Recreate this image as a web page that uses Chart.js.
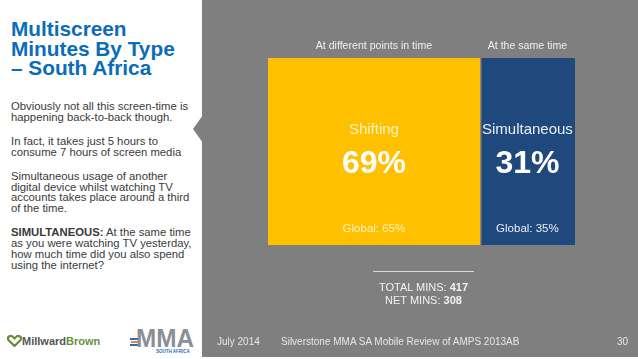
<!DOCTYPE html>
<html>
<head>
<meta charset="utf-8">
<script src="https://cdn.jsdelivr.net/npm/chart.js@4/dist/chart.umd.min.js"></script>
<style>
    html, body { margin: 0; padding: 0; }
    body { width: 638px; height: 359px; position: relative; overflow: hidden; background: #fff; font-family: "Liberation Sans", Arial, sans-serif; }
    #left { position: absolute; left: 0; top: 0; width: 202px; height: 359px; }
    #title { position: absolute; left: 11px; top: 19px; margin: 0; font-size: 20.8px; line-height: 19.5px; font-weight: bold; color: #0b6cb8; }
    #body { position: absolute; left: 11px; top: 101px; white-space: nowrap; font-size: 11.3px; line-height: 10.9px; color: #3a3a3a; }
    #body p { margin: 0 0 13px 0; }
    #panel { position: absolute; left: 202px; top: 0; width: 436px; height: 357px; background: #7f7f7f; }
    #notch { position: absolute; left: 193px; top: 115px; width: 10px; height: 28px; background: #7f7f7f; clip-path: polygon(100% 0, 0 50%, 100% 100%); }
    #chart { position: absolute; left: 202px; top: 0; }
    #totals { position: absolute; left: 373px; top: 271px; width: 101px; border-top: 1px solid #d8d8d8; text-align: center; color: #f2f2f2; font-size: 11px; line-height: 13px; padding-top: 9px; }
    .foot { position: absolute; top: 336px; font-size: 10px; color: #e6e6e6; }
    #mb { position: absolute; left: 7px; top: 335px; font-size: 11px; font-weight: bold; }
    #mma { position: absolute; left: 130px; top: 326px; width: 66px; height: 28px; }
</style>
</head>
<body>
<div id="left">
    <h1 id="title">Multiscreen<br>Minutes By Type<br>– South Africa</h1>
    <div id="body">
        <p>Obviously not all this screen-time is<br>happening back-to-back though.</p>
        <p>In fact, it takes just 5 hours to<br>consume 7 hours of screen media</p>
        <p>Simultaneous usage of another<br>digital device whilst watching TV<br>accounts takes place around a third<br>of the time.</p>
        <p><b>SIMULTANEOUS:</b> At the same time<br>as you were watching TV yesterday,<br>how much time did you also spend<br>using the internet?</p>
    </div>
    <div id="mb">
        <svg width="15" height="12" viewBox="0 0 15 12" style="vertical-align:-2px">
            <path d="M7.5 11 L1.5 5 Q0 3 2 1.5 Q4 0 6 2 L7.5 3.5 L9 2 Q11 0 13 1.5 Q15 3 13.5 5 Z" fill="none" stroke="#6b8e3a" stroke-width="2.2"/>
        </svg><span style="color:#555">Millward</span><span style="color:#6b8e3a">Brown</span>
    </div>
    <svg id="mma" viewBox="0 0 66 28">
        <rect x="0" y="12" width="8" height="2" fill="#2f6db3"/>
        <rect x="1" y="15" width="7" height="2" fill="#e08a2c"/>
        <rect x="0" y="18" width="8" height="2" fill="#2f6db3"/>
        <text x="6" y="21" font-family="Liberation Sans, Arial" font-weight="bold" font-size="25" fill="#8a8f96" textLength="58" lengthAdjust="spacingAndGlyphs">MMA</text>
        <text x="26" y="26.5" font-family="Liberation Sans, Arial" font-weight="bold" font-size="4.5" fill="#2f6db3">SOUTH AFRICA</text>
    </svg>
</div>
<div id="panel"></div>
<div id="notch"></div>
<canvas id="chart" width="436" height="359"></canvas>
<div id="totals">TOTAL MINS: <b>417</b><br>NET MINS: <b>308</b></div>
<div class="foot" style="left:217px">July 2014</div>
<div class="foot" style="left:281px">Silverstone MMA SA Mobile Review of AMPS 2013AB</div>
<div class="foot" style="left:617px">30</div>

<script>
// chart data
const categories = ['Shifting', 'Simultaneous'];
const headers = ['At different points in time', 'At the same time'];
const shares = [69, 31];
const globalShares = [65, 35];

// styles
const barColors = ['#ffc000', '#1f497d'];
const nameColors = ['#fff2c2', '#e8eef6'];

// Draw the texts on top of and above each block
const blockLabels = {
    id: 'blockLabels',
    afterDatasetsDraw(chart) {
        const ctx = chart.ctx;
        ctx.save();
        ctx.textAlign = 'center';
        ctx.textBaseline = 'middle';
        chart.data.datasets.forEach((ds, i) => {
            const bar = chart.getDatasetMeta(i).data[0];
            const cx = (bar.x + bar.base) / 2;
            const top = bar.y - bar.height / 2;
            const font = 'Liberation Sans, Arial, sans-serif';

            ctx.fillStyle = '#f0f0f0';
            ctx.font = '10.6px ' + font;
            ctx.fillText(headers[i], cx, top - 12);

            ctx.fillStyle = nameColors[i];
            ctx.font = '15px ' + font;
            ctx.fillText(categories[i], cx, top + 72);

            ctx.fillStyle = '#ffffff';
            ctx.font = 'bold 32px ' + font;
            ctx.fillText(shares[i] + '%', cx, top + 106);

            ctx.fillStyle = nameColors[i];
            ctx.font = '11.5px ' + font;
            ctx.fillText('Global: ' + globalShares[i] + '%', cx, top + 171);
        });
        ctx.restore();
    }
};

new Chart(document.getElementById('chart').getContext('2d'), {
    type: 'bar',
    data: {
        labels: ['Multiscreen minutes'],
        datasets: categories.map((name, i) => ({
            label: name,
            data: [shares[i]],
            backgroundColor: barColors[i],
            borderColor: '#7f7f7f',
            borderWidth: i === 0 ? 0 : { left: 2, top: 0, right: 0, bottom: 0 },
            borderSkipped: false,
            categoryPercentage: 1,
            barPercentage: 1
        }))
    },
    options: {
        indexAxis: 'y',
        responsive: false,
        animation: false,
        devicePixelRatio: 1,
        layout: { padding: { left: 66, right: 63, top: 58, bottom: 114 } },
        plugins: { legend: { display: false }, tooltip: { enabled: false } },
        scales: {
            x: { stacked: true, min: 0, max: 100, display: false },
            y: { stacked: true, display: false }
        }
    },
    plugins: [blockLabels]
});
</script>
</body>
</html>
